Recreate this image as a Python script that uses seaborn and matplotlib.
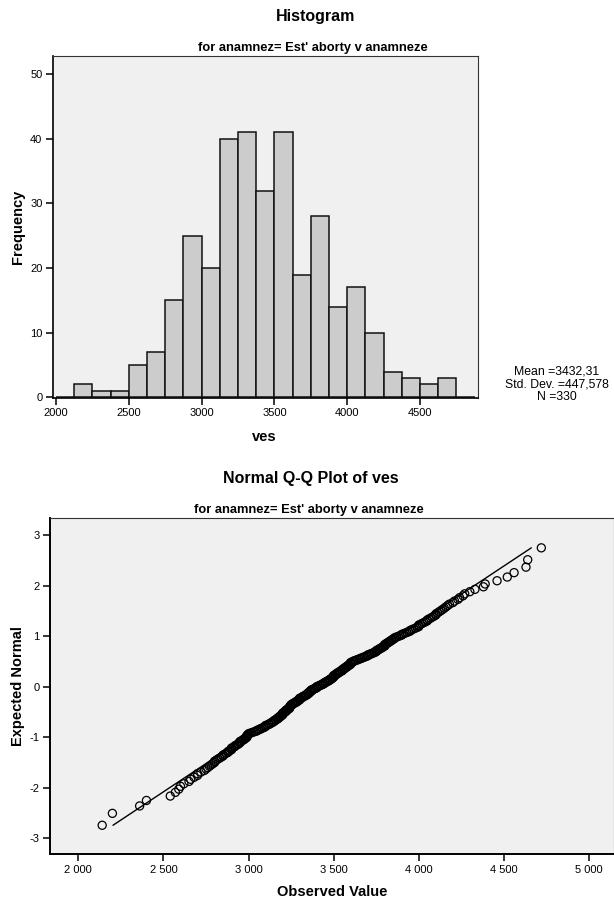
import numpy as np
import pandas as pd
import matplotlib
matplotlib.use("Agg")
import matplotlib.pyplot as plt
import seaborn as sns
from statistics import NormalDist
from matplotlib.ticker import FuncFormatter, FixedLocator

# ---- data: birth weight "ves" (grams), sorted, grouped by histogram bin ----
b2125 = [2140, 2200]
b2250 = [2360]
b2375 = [2400]
b2500 = [2540, 2570, 2590, 2600, 2620]
b2625 = [2650, 2660, 2680, 2700, 2700, 2720, 2740]
b2750 = [2750, 2760, 2770, 2780, 2790, 2800, 2800, 2810, 2820, 2830,
         2840, 2850, 2850, 2860, 2870]
b2875 = [2880, 2880, 2890, 2900, 2900, 2900, 2910, 2920, 2920, 2930,
         2940, 2940, 2950, 2950, 2950, 2960, 2970, 2970, 2980, 2980,
         2990, 2990, 2990, 2990, 2995]
b3000 = [3000, 3000, 3010, 3020, 3030, 3040, 3050, 3050, 3060, 3070,
         3070, 3080, 3090, 3090, 3100, 3100, 3100, 3110, 3120, 3120]
b3125 = [3130, 3130, 3140, 3140, 3150, 3150, 3150, 3160, 3160, 3170,
         3170, 3170, 3180, 3180, 3180, 3190, 3190, 3190, 3200, 3200,
         3200, 3200, 3200, 3210, 3210, 3210, 3220, 3220, 3220, 3220,
         3230, 3230, 3230, 3240, 3240, 3240, 3240, 3245, 3245, 3245]
b3250 = [3250, 3250, 3250, 3260, 3260, 3260, 3270, 3270, 3280, 3280,
         3280, 3290, 3290, 3290, 3300, 3300, 3300, 3300, 3300, 3310,
         3310, 3320, 3320, 3320, 3330, 3330, 3340, 3340, 3340, 3350,
         3350, 3350, 3350, 3360, 3360, 3360, 3360, 3370, 3370, 3370,
         3370]
b3375 = [3380, 3380, 3390, 3390, 3400, 3400, 3400, 3400, 3410, 3410,
         3420, 3420, 3430, 3430, 3440, 3440, 3440, 3450, 3450, 3450,
         3460, 3460, 3470, 3470, 3470, 3480, 3480, 3480, 3490, 3490,
         3490, 3495]
b3500 = [3500, 3500, 3500, 3500, 3500, 3510, 3510, 3510, 3520, 3520,
         3520, 3530, 3530, 3530, 3540, 3540, 3550, 3550, 3550, 3550,
         3560, 3560, 3560, 3570, 3570, 3570, 3580, 3580, 3580, 3590,
         3590, 3590, 3600, 3600, 3600, 3600, 3600, 3610, 3610, 3620,
         3620]
b3625 = [3630, 3640, 3640, 3650, 3660, 3660, 3670, 3680, 3680, 3690,
         3700, 3700, 3700, 3710, 3720, 3720, 3730, 3740, 3740]
b3750 = [3750, 3750, 3750, 3760, 3760, 3770, 3770, 3780, 3780, 3790,
         3790, 3800, 3800, 3800, 3800, 3810, 3810, 3820, 3820, 3830,
         3830, 3840, 3840, 3850, 3850, 3860, 3860, 3870]
b3875 = [3880, 3890, 3900, 3900, 3910, 3920, 3930, 3940, 3950, 3950,
         3960, 3970, 3980, 3990]
b4000 = [4000, 4000, 4000, 4010, 4020, 4030, 4040, 4050, 4050, 4060,
         4070, 4080, 4090, 4100, 4100, 4110, 4120]
b4125 = [4130, 4140, 4150, 4160, 4170, 4180, 4200, 4210, 4230, 4240]
b4250 = [4260, 4270, 4300, 4330]
b4375 = [4380, 4390, 4460]
b4500 = [4520, 4560]
b4625 = [4630, 4640, 4720]

bin_edges = list(range(2000, 4876, 125))
hist_xticks = [2000, 2500, 3000, 3500, 4000, 4500]
hist_yticks = [0, 10, 20, 30, 40, 50]
qq_xticks = [2000, 2500, 3000, 3500, 4000, 4500, 5000]
qq_yticks = [-3, -2, -1, 0, 1, 2, 3]

mean_val = 3432.31
sd_val = 447.578
n_val = 330

title_hist = "Histogram"
title_qq = "Normal Q-Q Plot of ves"
subtitle = "for anamnez= Est' aborty v anamneze"

ves = np.array(b2125 + b2250 + b2375 + b2500 + b2625 + b2750 + b2875 + b3000 +
               b3125 + b3250 + b3375 + b3500 + b3625 + b3750 + b3875 + b4000 +
               b4125 + b4250 + b4375 + b4500 + b4625, dtype=float)

# expected normal (rank / (n+1))
obs = np.sort(ves)
n = len(obs)
nd = NormalDist()
expected = np.array([nd.inv_cdf((i + 1) / (n + 1)) for i in range(n)])
qq = pd.DataFrame({"Observed Value": obs, "Expected Normal": expected})
zmax = nd.inv_cdf(n / (n + 1))
line_df = pd.DataFrame({"x": [mean_val - zmax * sd_val, mean_val + zmax * sd_val],
                        "y": [-zmax, zmax]})

sns.set_style("white")
plt.rcParams["font.family"] = ["Liberation Sans", "DejaVu Sans"]
plt.rcParams["text.color"] = "#000000"
plt.rcParams["axes.labelcolor"] = "#000000"
plt.rcParams["xtick.color"] = "#000000"
plt.rcParams["ytick.color"] = "#000000"

W, H = 614, 901
fig = plt.figure(figsize=(W / 100, H / 100), dpi=100)

def fx(px):
    return px / W

def fy(py):
    return 1 - py / H

bg = "#f0f0f0"
TICK = 8
TITLE = 11.5
SUB = 9.3
LAB = 10.5
STAT = 8.8

# ---------------- Histogram ----------------
l, r, t, b = 52.9, 477.7, 55.5, 398.0
ax1 = fig.add_axes([fx(l), fy(b), fx(r) - fx(l), fy(t) - fy(b)])
ax1.set_facecolor(bg)
sns.histplot(x=ves, bins=bin_edges, color="#cccccc", edgecolor="#111111",
             linewidth=1.1, alpha=1, ax=ax1)
ax1.set_xlim(1979, 4896)
ax1.set_ylim(-0.1, 52.9)
ax1.xaxis.set_major_locator(FixedLocator(hist_xticks))
ax1.yaxis.set_major_locator(FixedLocator(hist_yticks))
ax1.set_xlabel("")
ax1.set_ylabel("")
for s in ["left", "bottom"]:
    ax1.spines[s].set_color("#000000")
    ax1.spines[s].set_linewidth(1.2)
for s in ["top", "right"]:
    ax1.spines[s].set_color("#333333")
    ax1.spines[s].set_linewidth(0.8)
ax1.tick_params(axis="both", direction="out", length=5, width=1.1,
                labelsize=TICK, colors="#000000", pad=2.5,
                left=True, bottom=True)

fig.text(fx(315.6), fy(17), title_hist, ha="center", va="center",
         fontsize=TITLE, fontweight="bold", color="#000000")
fig.text(fx(313), fy(48), subtitle, ha="center", va="center",
         fontsize=SUB, fontweight="bold", color="#000000")
fig.text(fx(17.6), fy((t + b) / 2), "Frequency", ha="center", va="center",
         rotation=90, fontsize=LAB, fontweight="bold", color="#000000")
fig.text(fx(264.5), fy(437), "ves", ha="center", va="center",
         fontsize=LAB, fontweight="bold", color="#000000")

def comma(v, d):
    return f"{v:.{d}f}".replace(".", ",")

fig.text(fx(557), fy(372), "Mean =" + comma(mean_val, 2), ha="center",
         va="center", fontsize=STAT, color="#000000")
fig.text(fx(557), fy(384.3), "Std. Dev. =" + comma(sd_val, 3), ha="center",
         va="center", fontsize=STAT, color="#000000")
fig.text(fx(557), fy(396.5), f"N ={n_val}", ha="center", va="center",
         fontsize=STAT, color="#000000")

# ---------------- Q-Q plot ----------------
l2, r2, t2, b2 = 50.1, 614.0, 518.3, 854.3
ax2 = fig.add_axes([fx(l2), fy(b2), fx(r2) - fx(l2), fy(t2) - fy(b2)])
ax2.set_facecolor(bg)
sns.lineplot(data=line_df, x="x", y="y", color="#000000", linewidth=1.0,
             sort=False, ax=ax2)
sns.scatterplot(data=qq, x="Observed Value", y="Expected Normal", marker="o",
                s=34, facecolors="none", edgecolors="#000000", linewidths=0.9,
                ax=ax2)
ax2.set_xlim(1834, 5147)
ax2.set_ylim(-3.32, 3.33)
ax2.xaxis.set_major_locator(FixedLocator(qq_xticks))
ax2.yaxis.set_major_locator(FixedLocator(qq_yticks))
ax2.xaxis.set_major_formatter(FuncFormatter(lambda v, p: f"{int(v):,}".replace(",", " ")))
ax2.yaxis.set_major_formatter(FuncFormatter(lambda v, p: f"{int(v)}"))
ax2.set_xlabel("")
ax2.set_ylabel("")
for s in ["left", "bottom"]:
    ax2.spines[s].set_color("#000000")
    ax2.spines[s].set_linewidth(1.4)
for s in ["top", "right"]:
    ax2.spines[s].set_color("#333333")
    ax2.spines[s].set_linewidth(0.8)
ax2.tick_params(axis="both", direction="out", length=5, width=1.1,
                labelsize=TICK, colors="#000000", pad=2.5,
                left=True, bottom=True)

fig.text(fx(311.3), fy(478), title_qq, ha="center", va="center",
         fontsize=TITLE, fontweight="bold", color="#000000")
fig.text(fx(309), fy(510), subtitle, ha="center", va="center",
         fontsize=SUB, fontweight="bold", color="#000000")
fig.text(fx(17.6), fy((t2 + b2) / 2), "Expected Normal", ha="center",
         va="center", rotation=90, fontsize=LAB, fontweight="bold",
         color="#000000")
fig.text(fx(332), fy(892), "Observed Value", ha="center", va="center",
         fontsize=LAB, fontweight="bold", color="#000000")

fig.savefig("out.png", dpi=100)
